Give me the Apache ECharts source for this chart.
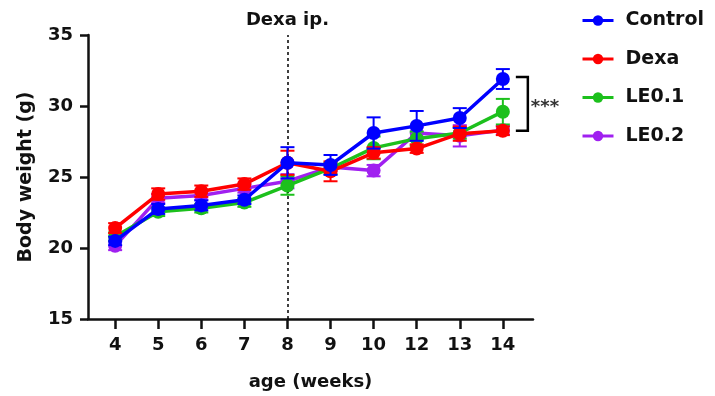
<!DOCTYPE html>
<html>
<head>
<meta charset="utf-8">
<script src="https://cdn.jsdelivr.net/npm/echarts@6/dist/echarts.min.js"></script>
<style>
  html, body { margin: 0; padding: 0; background: #fff; }
  #chart { width: 715px; height: 396px; }
</style>
</head>
<body>
<div id="chart"></div>
<script>
// Age in weeks (x categories)
const weeks = ['4', '5', '6', '7', '8', '9', '10', '12', '13', '14'];
const yTicks = [15, 20, 25, 30, 35];

// Mean body weight (g) per group
const control = [20.5, 22.75, 23.0, 23.4, 26.0, 25.85, 28.1, 28.6, 29.15, 31.9];
const dexa    = [21.4, 23.8, 24.0, 24.5, 26.0, 25.4, 26.7, 27.0, 28.05, 28.25];
const le01    = [20.8, 22.55, 22.8, 23.2, 24.4, 25.6, 27.05, 27.7, 28.1, 29.6];
const le02    = [20.15, 23.5, 23.7, 24.2, 24.7, 25.7, 25.45, 28.1, 27.9, 28.3];

// Error (SEM) per group
const controlErr = [0.3, 0.35, 0.35, 0.3, 1.1, 0.7, 1.1, 1.05, 0.7, 0.7];
const dexaErr    = [0.35, 0.4, 0.4, 0.4, 0.85, 0.7, 0.4, 0.3, 0.5, 0.3];
const le01Err    = [0.3, 0.3, 0.3, 0.3, 0.65, 0.4, 0.8, 0.5, 0.4, 0.9];
const le02Err    = [0.3, 0.3, 0.3, 0.3, 0.5, 0.3, 0.4, 0.4, 0.75, 0.3];

const legendNames = ['Control', 'Dexa', 'LE0.1', 'LE0.2'];

// Drawn bottom to top
const groups = [
  { name: 'LE0.2',   color: '#a020f0', mean: le02,    err: le02Err },
  { name: 'LE0.1',   color: '#1cc01c', mean: le01,    err: le01Err },
  { name: 'Dexa',    color: '#ff0000', mean: dexa,    err: dexaErr },
  { name: 'Control', color: '#0000ff', mean: control, err: controlErr }
];

const FONT = '"DejaVu Sans", "Liberation Sans", Arial, sans-serif';
const dexaWeekIndex = 4;   // injection at week 8

const xIdx = weeks.map((w, i) => i);

function errorBarSeries(g, z) {
  return {
    type: 'custom',
    name: g.name + ' SEM',
    color: g.color,
    z: z,
    silent: true,
    data: g.mean.map((m, i) => [i, m - g.err[i], m + g.err[i]]),
    renderItem: function (params, api) {
      const lo = api.coord([api.value(0), api.value(1)]);
      const hi = api.coord([api.value(0), api.value(2)]);
      const half = 7;
      const style = { stroke: g.color, lineWidth: 2, fill: null };
      return {
        type: 'group',
        children: [
          { type: 'line', shape: { x1: hi[0], y1: hi[1], x2: lo[0], y2: lo[1] }, style: style },
          { type: 'line', shape: { x1: hi[0] - half, y1: hi[1], x2: hi[0] + half, y2: hi[1] }, style: style },
          { type: 'line', shape: { x1: lo[0] - half, y1: lo[1], x2: lo[0] + half, y2: lo[1] }, style: style }
        ]
      };
    }
  };
}

const series = [];
groups.forEach((g, k) => {
  series.push(errorBarSeries(g, 2 + k * 2));
  series.push({
    type: 'line',
    name: g.name,
    z: 3 + k * 2,
    data: g.mean.map((m, i) => [i, m]),
    symbol: 'circle',
    symbolSize: 14,
    color: g.color,
    lineStyle: { width: 3.5, color: g.color },
    itemStyle: { color: g.color },
    emphasis: { disabled: true }
  });
});

// Vertical dashed marker for the injection time
series.push({
  type: 'line',
  name: 'injection',
  data: [],
  silent: true,
  markLine: {
    symbol: 'none',
    silent: true,
    lineStyle: { type: [3, 3], color: '#000', width: 1.5 },
    label: {
      show: true, position: 'end', distance: 6,
      formatter: 'Dexa ip.',
      color: '#111', fontFamily: FONT, fontWeight: 'bold', fontSize: 18
    },
    data: [{ xAxis: dexaWeekIndex }]
  }
});

// Significance bracket between Control and Dexa at week 14
const last = weeks.length - 1;
series.push({
  type: 'custom',
  name: 'significance',
  silent: true,
  z: 20,
  data: [[last, control[last], dexa[last]]],
  renderItem: function (params, api) {
    const top = api.coord([api.value(0), api.value(1)]);
    const bot = api.coord([api.value(0), api.value(2)]);
    const x0 = top[0] + 13, x1 = top[0] + 25;
    return {
      type: 'group',
      children: [
        {
          type: 'polyline',
          shape: { points: [[x0, top[1] - 2], [x1, top[1] - 2], [x1, bot[1]], [x0, bot[1]]] },
          style: { stroke: '#000', lineWidth: 2.5, fill: null }
        },
        {
          type: 'text',
          style: {
            x: x1 + 3, y: (top[1] + bot[1]) / 2 + 2,
            text: '***', fill: '#333',
            font: 'bold 18px ' + FONT,
            verticalAlign: 'middle', align: 'left'
          }
        }
      ]
    };
  }
});

const chart = echarts.init(document.getElementById('chart'), null, { renderer: 'canvas' });
chart.setOption({
  animation: false,
  backgroundColor: '#fff',
  grid: { left: 88, right: 182, top: 35, bottom: 77 },
  legend: {
    data: legendNames,
    orient: 'vertical',
    left: 576,
    top: 6,
    itemWidth: 31,
    itemHeight: 13,
    itemGap: 19.5,
    selectedMode: false,
    lineStyle: { width: 3 },
    textStyle: {
      fontFamily: FONT, fontWeight: 'bold', fontSize: 19, color: '#111',
      padding: [0, 0, 0, 7]
    }
  },
  xAxis: {
    type: 'value',
    min: -0.63,
    max: 9.7,
    name: 'age (weeks)',
    nameLocation: 'middle',
    nameGap: 54,
    nameTextStyle: { fontFamily: FONT, fontWeight: 'bold', fontSize: 18, color: '#111' },
    axisLine: { onZero: false, lineStyle: { color: '#111', width: 2.5 } },
    axisTick: { show: true, length: 10, lineStyle: { color: '#111', width: 2.5 }, customValues: xIdx },
    axisLabel: {
      customValues: xIdx,
      formatter: v => weeks[Math.round(v)],
      margin: 17,
      fontFamily: FONT, fontWeight: 'bold', fontSize: 18, color: '#111'
    },
    splitLine: { show: false }
  },
  yAxis: {
    type: 'value',
    min: 15,
    max: 35,
    interval: 5,
    name: 'Body weight (g)',
    nameLocation: 'middle',
    nameGap: 52,
    nameTextStyle: { fontFamily: FONT, fontWeight: 'bold', fontSize: 19, color: '#111' },
    axisLine: { show: true, onZero: false, lineStyle: { color: '#111', width: 2.5 } },
    axisTick: { show: true, length: 8, lineStyle: { color: '#111', width: 2.5 }, customValues: yTicks },
    axisLabel: {
      customValues: yTicks,
      margin: 15,
      fontFamily: FONT, fontWeight: 'bold', fontSize: 18, color: '#111'
    },
    splitLine: { show: false }
  },
  series: series
});
</script>
</body>
</html>
